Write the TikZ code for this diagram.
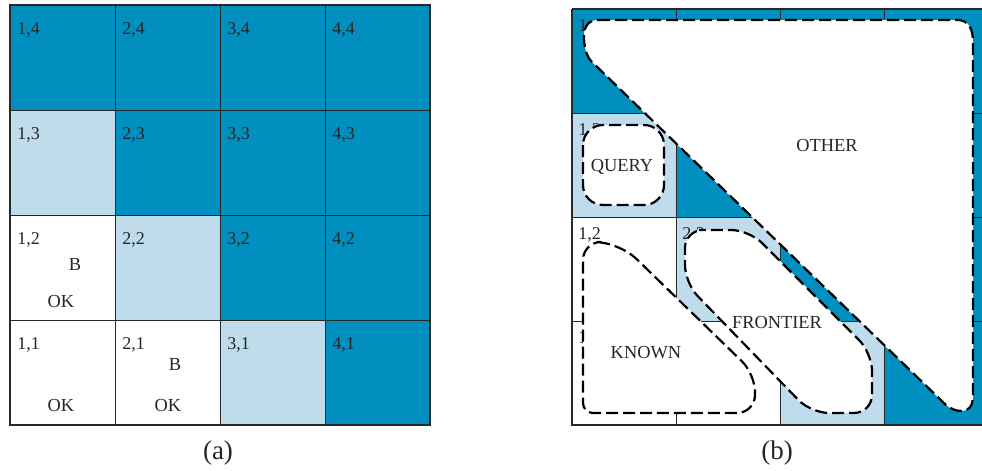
\documentclass[tikz,border=0pt]{standalone}
\usepackage{fontspec}
\setmainfont{Liberation Serif}
\usetikzlibrary{positioning}
\definecolor{DarkCell}{RGB}{0,143,190}
\definecolor{LightCell}{RGB}{190,220,235}
\definecolor{GridGray}{RGB}{40,40,40}

\begin{document}
\begin{tikzpicture}[x=0.5pt, y=-0.5pt, font=\fontsize{9}{10}\selectfont, text=black!85]
\tikzset{
  darkcell/.style={fill=DarkCell},
  lightcell/.style={fill=LightCell},
  whitecell/.style={fill=white},
  gridline/.style={draw=GridGray, line width=0.5pt},
  frame/.style={draw=GridGray, line width=1pt},
  cellno/.style={anchor=west, inner sep=0pt},
  region/.style={draw=black, fill=white, line width=1.1pt, dash pattern=on 6pt off 2.5pt},
  word/.style={font=\fontsize{9.2}{11}\selectfont, inner sep=0pt},
  caption/.style={font=\fontsize{13.5}{15}\selectfont}
}
\clip (0,0) rectangle (982,471);

% (a) the wumpus world grid
\foreach \i/\j/\c in {1/4/darkcell,2/4/darkcell,3/4/darkcell,4/4/darkcell,
                      1/3/lightcell,2/3/darkcell,3/3/darkcell,4/3/darkcell,
                      1/2/whitecell,2/2/lightcell,3/2/darkcell,4/2/darkcell,
                      1/1/whitecell,2/1/whitecell,3/1/lightcell,4/1/darkcell}
  \path[\c] ({10+105*(\i-1)},{5+105*(4-\j)}) rectangle ++(105,105);
\foreach \k in {1,2,3} {
  \draw[gridline] ({10+105*\k},5) -- ({10+105*\k},425);
  \draw[gridline] (10,{5+105*\k}) -- (430,{5+105*\k});
}
\foreach \i in {1,...,4}
  \foreach \j in {1,...,4}
    \node[cellno] (a\i\j) at ({17+105*(\i-1)},{30+105*(4-\j)}) {\i,\j};
\draw[frame] (10,5) rectangle (430,425);

\node[word] (b12) at (75,265) {B};
\node[word] (ok12) at (61,301) {OK};
\node[word] (ok11) at (61,405) {OK};
\node[word] (b21) at (175,365) {B};
\node[word] (ok21) at (168,405) {OK};
\node[caption] (capa) at (218,453) {(a)};

% (b) the same grid split into regions
\foreach \i/\j/\c in {1/4/darkcell,2/4/darkcell,3/4/darkcell,4/4/darkcell,
                      1/3/lightcell,2/3/darkcell,3/3/darkcell,4/3/darkcell,
                      1/2/whitecell,2/2/lightcell,3/2/darkcell,4/2/darkcell,
                      1/1/whitecell,2/1/whitecell,3/1/lightcell,4/1/darkcell}
  \path[\c] ({572+104*(\i-1)},{9+104*(4-\j)}) rectangle ++(104,104);
\foreach \k in {1,2,3} {
  \draw[gridline] ({572+104*\k},9) -- ({572+104*\k},425);
  \draw[gridline] (572,{9+104*\k}) -- (988,{9+104*\k});
}
\foreach \i in {1,...,4}
  \foreach \j in {1,...,4}
    \node[cellno] (b\i\j) at ({578+104*(\i-1)},{27+104*(4-\j)}) {\i,\j};

\draw[region] (598,20) -- (957,20) .. controls (968,20) and (973,28) .. (973,42)
  -- (973,395) .. controls (973,406) and (969,411) .. (962,411)
  .. controls (956,411) and (951,409) .. (946,405)
  -- (591,61) .. controls (586,55) and (584,46) .. (584,36)
  .. controls (584,26) and (589,20) .. (598,20) -- cycle;
\draw[region, rounded corners=10pt] (583,125) rectangle (664,205);
\draw[region] (670,413) [rounded corners=5pt] -- (583,413) [rounded corners=9pt] -- (583,242)
  [rounded corners=12pt] -- (619,242) [rounded corners=9pt] -- (755,374) -- (755,413) -- cycle;
\draw[region, rounded corners=9pt] (717,230) -- (749,230) -- (872,353) -- (872,413)
  -- (811,413) -- (685,283) -- (685,230) -- cycle;

\node[word] (other) at (827,145) {OTHER};
\node[word] (query) at (622,167) {QUERY};
\node[word] (known) at (646,353) {KNOWN};
\node[word] (frontier) at (777,322) {FRONTIER};
\draw[frame] (572,9) -- (572,425) -- (988,425);
\draw[frame] (572,9) -- (988,9);
\node[caption] (capb) at (777,453) {(b)};
\end{tikzpicture}
\end{document}
